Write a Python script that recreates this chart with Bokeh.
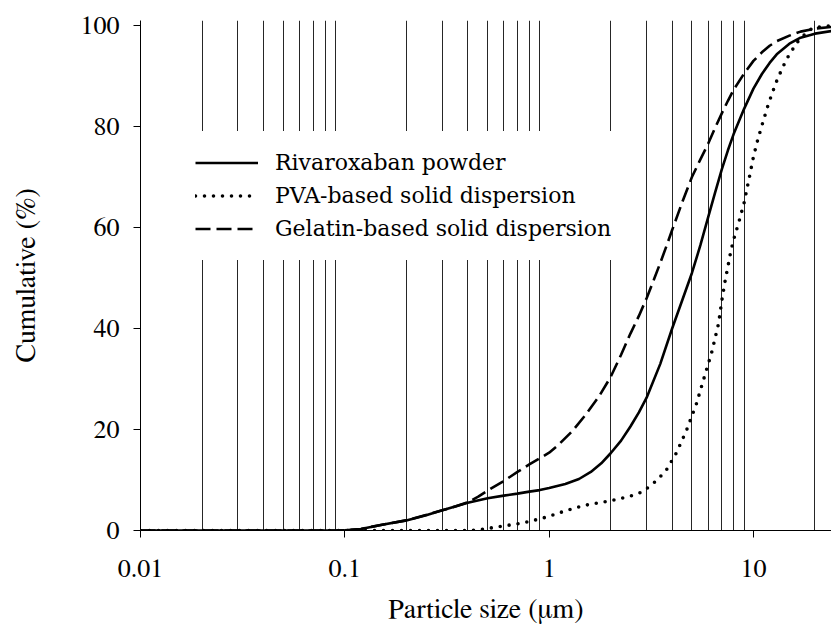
from bokeh.plotting import figure
from bokeh.models import Range1d, FixedTicker, Legend, LegendItem
from bokeh.embed import file_html
from bokeh.resources import INLINE

# ---- data ----
riva_x = [0.01, 0.05, 0.09, 0.1, 0.12, 0.15, 0.2, 0.25, 0.3, 0.35, 0.4, 0.5, 0.6, 0.7, 0.8, 0.9, 1.0,
          1.2, 1.4, 1.6, 1.8, 2, 2.25, 2.5, 2.75, 3, 3.5, 4, 4.5, 5, 5.5, 6, 6.5, 7, 7.5, 8, 9, 10,
          11, 12, 13, 15, 17, 20, 25, 30]
riva_y = [0, 0, 0, 0.05, 0.3, 1.1, 2.0, 3.0, 4.0, 4.8, 5.5, 6.4, 6.9, 7.3, 7.7, 8.0, 8.4,
          9.2, 10.2, 11.6, 13.3, 15.3, 17.8, 20.6, 23.4, 26.3, 33.0, 40.0, 45.8, 51.0, 56.5, 62.0, 67.0, 71.5, 75.3, 78.5, 83.5, 87.5,
          90.4, 92.6, 94.3, 96.4, 97.6, 98.4, 99.0, 99.2]

pva_x = [0.01, 0.1, 0.2, 0.3, 0.4, 0.45, 0.5, 0.6, 0.7, 0.8, 0.9, 1.0, 1.2, 1.5, 2, 2.5, 2.8, 3.1,
         3.4, 3.75, 4.2, 4.7, 5.25, 5.75, 6.25, 6.75, 7, 7.25, 7.5, 7.75, 8, 8.5, 9, 9.5, 10, 10.5,
         11, 11.7, 12.4, 13.1, 13.8, 14.5, 15.4, 16.3, 17.9, 19.6, 25, 30]
pva_y = [0, 0, 0, 0, 0, 0.1, 0.4, 0.9, 1.3, 1.8, 2.3, 2.8, 3.9, 5.0, 5.9, 6.8, 7.5, 8.7,
         10.1, 12.0, 15.4, 19.8, 25.0, 30.4, 35.3, 41.0, 45.5, 49.2, 52.3, 55.3, 57.6, 61.2, 64.9, 69.5, 74.0, 77.4,
         80.2, 83.8, 86.8, 89.4, 91.4, 93.3, 95.0, 96.6, 98.3, 99.6, 100, 100]

gel_x = [0.01, 0.09, 0.1, 0.12, 0.15, 0.2, 0.3, 0.35, 0.4, 0.45, 0.5, 0.6, 0.7, 0.8, 0.9, 1.0, 1.1, 1.3,
         1.5, 1.75, 2, 2.25, 2.5, 2.75, 3, 3.25, 3.5, 3.75, 4, 4.5, 5, 5.5, 6, 6.5, 7, 7.5, 8, 9, 10,
         11, 12, 13, 15, 17, 20, 25, 30]
gel_y = [0, 0, 0.05, 0.3, 1.1, 2.0, 4.0, 4.8, 5.6, 6.7, 7.9, 9.8, 11.6, 13.1, 14.3, 15.4, 16.8, 19.7,
         22.8, 26.5, 30.4, 34.8, 39.0, 42.5, 46.0, 49.6, 53.0, 56.3, 59.5, 65.2, 70.0, 73.5, 76.6, 79.8, 82.6, 85.1, 87.3, 90.5, 93.0,
         94.7, 96.0, 96.9, 98.0, 98.8, 99.4, 99.8, 100]

series_labels = ["Rivaroxaban powder", "PVA-based solid dispersion", "Gelatin-based solid dispersion"]

x_major_ticks = [0.01, 0.1, 1, 10]
x_minor_grid = [0.02, 0.03, 0.04, 0.05, 0.06, 0.07, 0.08, 0.09,
                0.2, 0.3, 0.4, 0.5, 0.6, 0.7, 0.8, 0.9,
                2, 3, 4, 5, 6, 7, 8, 9, 20]
y_ticks = [0, 20, 40, 60, 80, 100]

SERIF = "FreeSerif"
LEGEND_SERIF = "DejaVu Serif"

p = figure(width=831, height=626, x_axis_type="log",
           x_range=Range1d(0.01, 24.1), y_range=Range1d(0, 101),
           output_backend="svg", toolbar_location=None,
           min_border_left=140, min_border_right=0, min_border_top=20, min_border_bottom=96)
p.outline_line_color = None
p.background_fill_color = "white"
p.border_fill_color = "white"

p.xgrid.ticker = FixedTicker(ticks=x_major_ticks, minor_ticks=x_minor_grid)
p.xgrid.grid_line_color = None
p.xgrid.minor_grid_line_color = "black"
p.xgrid.minor_grid_line_alpha = 0.85
p.xgrid.minor_grid_line_width = 1
p.ygrid.grid_line_color = None

p.xaxis.ticker = FixedTicker(ticks=x_major_ticks)
p.xaxis.major_label_overrides = {0.01: "0.01", 0.1: "0.1", 1: "1", 10: "10"}
p.yaxis.ticker = FixedTicker(ticks=y_ticks)
for ax in (p.xaxis[0], p.yaxis[0]):
    ax.axis_line_color = "black"
    ax.axis_line_width = 1
    ax.major_tick_line_color = "black"
    ax.major_tick_in = 0
    ax.major_tick_out = 7
    ax.minor_tick_line_color = None
    ax.major_label_text_font = SERIF
    ax.major_label_text_font_size = "26px"
    ax.major_label_text_color = "black"
    ax.axis_label_text_font = SERIF
    ax.axis_label_text_font_size = "28px"
    ax.axis_label_text_font_style = "normal"
    ax.axis_label_text_color = "black"

p.xaxis.axis_label = "Particle size (\u03bcm)"
p.yaxis.axis_label = "Cumulative (%)"
p.xaxis.major_label_standoff = 22
p.xaxis.axis_label_standoff = 16
p.yaxis.major_label_standoff = 14
p.yaxis.axis_label_standoff = 36

r1 = p.line(riva_x, riva_y, line_color="black", line_width=2.6)
r2 = p.line(pva_x, pva_y, line_color="black", line_width=3.6, line_dash="0 9", line_cap="round")
r3 = p.line(gel_x, gel_y, line_color="black", line_width=2.6, line_dash="15 6")

legend = Legend(items=[LegendItem(label=series_labels[0], renderers=[r1]),
                       LegendItem(label=series_labels[1], renderers=[r2]),
                       LegendItem(label=series_labels[2], renderers=[r3])],
                location=(40, 270), padding=0, spacing=0, margin=0,
                glyph_width=63, glyph_height=33, label_height=33, label_standoff=17,
                label_text_font=LEGEND_SERIF, label_text_font_size="22px", label_text_color="black",
                background_fill_color="white", background_fill_alpha=1.0,
                border_line_color="white", border_line_width=15)
p.add_layout(legend)

open("out.html", "w").write(file_html(p, INLINE))
